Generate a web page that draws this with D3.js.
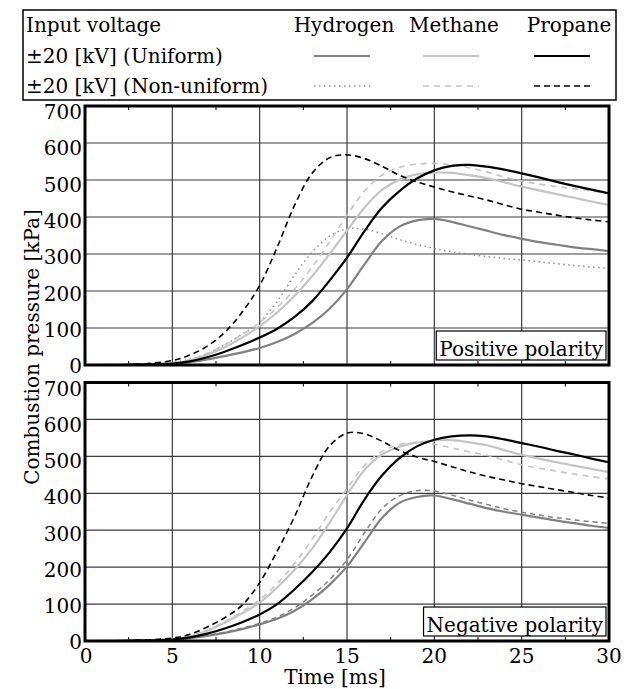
<!DOCTYPE html>
<html>
<head>
<meta charset="utf-8">
<script src="https://cdn.jsdelivr.net/npm/d3@7"></script>
<style>
  body { margin: 0; background: #fff; }
  svg { display: block; font-family: "DejaVu Serif", serif; }
</style>
</head>
<body>
<svg id="chart"></svg>
<script>
// ---- Data ----
const TIME = [0, 2.5, 5, 6, 7, 8, 9, 10, 11, 12, 13, 14, 15, 16, 17, 18, 19, 20, 21, 22, 23, 24, 25, 26, 27, 28, 29, 30];

// Positive polarity [kPa]
const POS_HYDROGEN_UNIFORM = [0, 0.5, 3, 8, 15, 24, 34, 46, 62, 84, 113, 152, 205, 272, 335, 374, 391, 395, 387, 375, 363, 351, 341, 332, 325, 318, 313, 308];
const POS_METHANE_UNIFORM = [0, 0.5, 5, 12, 28, 48, 74, 105, 142, 187, 240, 300, 363, 425, 473, 501, 515, 520, 519, 513, 505, 494, 482, 472, 462, 452, 442, 432];
const POS_PROPANE_UNIFORM = [0, 0.5, 4, 10, 21, 36, 54, 74, 98, 130, 172, 228, 290, 362, 425, 470, 504, 526, 538, 541, 536, 528, 518, 507, 495, 484, 474, 464];
const POS_HYDROGEN_NONUNIFORM = [0, 1, 7, 16, 31, 55, 83, 116, 172, 243, 305, 348, 368, 367, 355, 339, 326, 315, 306, 299, 293, 288, 284, 279, 274, 269, 265, 261];
const POS_METHANE_NONUNIFORM = [0, 0.5, 6, 14, 32, 55, 82, 115, 155, 205, 265, 332, 405, 470, 513, 534, 543, 545, 541, 533, 522, 508, 497, 489, 482, 476, 470, 464];
const POS_PROPANE_NONUNIFORM = [0, 1, 12, 27, 51, 88, 143, 215, 318, 432, 518, 560, 568, 558, 537, 513, 495, 481, 468, 457, 446, 433, 421, 413, 405, 398, 392, 387];

// Negative polarity [kPa]
const NEG_HYDROGEN_UNIFORM = [0, 0.5, 3, 8, 14, 22, 32, 45, 60, 82, 113, 152, 202, 267, 333, 374, 390, 394, 384, 372, 360, 350, 342, 334, 326, 319, 312, 306];
const NEG_METHANE_UNIFORM = [0, 0.5, 6, 13, 28, 50, 75, 104, 145, 193, 250, 320, 395, 463, 505, 526, 537, 543, 544, 538, 530, 517, 504, 494, 484, 475, 466, 457];
const NEG_PROPANE_UNIFORM = [0, 0.5, 4, 10, 20, 34, 51, 72, 100, 140, 186, 240, 305, 383, 448, 495, 527, 545, 554, 557, 554, 546, 536, 526, 515, 505, 494, 484];
const NEG_HYDROGEN_NONUNIFORM = [0, 0.5, 3, 8, 15, 24, 35, 48, 65, 90, 124, 166, 220, 293, 358, 393, 407, 406, 395, 382, 370, 358, 349, 341, 334, 328, 323, 318];
const NEG_METHANE_NONUNIFORM = [0, 0.5, 6, 14, 30, 52, 80, 112, 155, 210, 275, 348, 413, 475, 513, 532, 538, 533, 523, 512, 503, 490, 477, 468, 460, 452, 445, 439];
const NEG_PROPANE_NONUNIFORM = [0, 1, 8, 18, 38, 63, 97, 158, 243, 337, 445, 528, 563, 561, 541, 516, 498, 486, 472, 458, 446, 436, 426, 418, 410, 402, 394, 387];

const Y_TICKS = [0, 100, 200, 300, 400, 500, 600, 700];
const X_TICKS = [0, 5, 10, 15, 20, 25, 30];
const X_MINOR = [2.5, 7.5, 12.5, 17.5, 22.5, 27.5];
const GASES = ['Hydrogen', 'Methane', 'Propane'];

// ---- Styles ----
const STYLE = {
  hydrogenU: { stroke: '#808080', width: 2.2, dash: null },
  methaneU: { stroke: '#c4c4c4', width: 2.2, dash: null },
  propaneU: { stroke: '#000', width: 2.2, dash: null },
  hydrogenDot: { stroke: '#8c8c8c', width: 1.5, dash: '1.5,3.5' },
  hydrogenDash: { stroke: '#808080', width: 1.5, dash: '5,4' },
  methaneN: { stroke: '#c4c4c4', width: 1.6, dash: '6,5' },
  propaneN: { stroke: '#000', width: 1.6, dash: '6,4' }
};

const W = 630, H = 689;
const svg = d3.select('#chart').attr('width', W).attr('height', H);
const x = d3.scaleLinear().domain([0, 30]).range([85, 609]);

const panels = [
  {
    id: 'pos', label: 'Positive polarity', top: 106, bottom: 365,
    series: [
      [POS_HYDROGEN_NONUNIFORM, 'hydrogenDot'],
      [POS_METHANE_NONUNIFORM, 'methaneN'],
      [POS_HYDROGEN_UNIFORM, 'hydrogenU'],
      [POS_METHANE_UNIFORM, 'methaneU'],
      [POS_PROPANE_NONUNIFORM, 'propaneN'],
      [POS_PROPANE_UNIFORM, 'propaneU']
    ]
  },
  {
    id: 'neg', label: 'Negative polarity', top: 382.5, bottom: 641,
    series: [
      [NEG_HYDROGEN_NONUNIFORM, 'hydrogenDash'],
      [NEG_METHANE_NONUNIFORM, 'methaneN'],
      [NEG_HYDROGEN_UNIFORM, 'hydrogenU'],
      [NEG_METHANE_UNIFORM, 'methaneU'],
      [NEG_PROPANE_NONUNIFORM, 'propaneN'],
      [NEG_PROPANE_UNIFORM, 'propaneU']
    ]
  }
];

function applyStyle(sel, key) {
  const s = STYLE[key];
  sel.attr('fill', 'none')
    .attr('stroke', s.stroke)
    .attr('stroke-width', s.width)
    .attr('stroke-dasharray', s.dash);
}

// ---- Panels ----
panels.forEach(p => {
  const y = d3.scaleLinear().domain([0, 700]).range([p.bottom, p.top]);
  // labels sit a little lower than the grid towards the top, as in the source
  const yLabel = d3.scaleLinear().domain([0, 700]).range([p.bottom + 1, p.top + 6]);
  const g = svg.append('g').attr('class', 'panel-' + p.id);

  g.append('clipPath').attr('id', 'clip-' + p.id)
    .append('rect')
    .attr('x', x(0)).attr('y', p.top)
    .attr('width', x(30) - x(0)).attr('height', p.bottom - p.top);

  // grid
  g.append('g').selectAll('line')
    .data(Y_TICKS.slice(1, -1))
    .join('line')
    .attr('x1', x(0)).attr('x2', x(30))
    .attr('y1', d => y(d)).attr('y2', d => y(d))
    .attr('stroke', '#3c3c3c').attr('stroke-width', 1.2);
  g.append('g').selectAll('line')
    .data(X_TICKS.slice(1, -1))
    .join('line')
    .attr('x1', d => x(d)).attr('x2', d => x(d))
    .attr('y1', p.top).attr('y2', p.bottom)
    .attr('stroke', '#3c3c3c').attr('stroke-width', 1.2);

  // minor ticks (inward, top and bottom)
  g.append('g').selectAll('line')
    .data(X_MINOR.flatMap(t => [[t, p.bottom, -4], [t, p.top, 4]]))
    .join('line')
    .attr('x1', d => x(d[0])).attr('x2', d => x(d[0]))
    .attr('y1', d => d[1]).attr('y2', d => d[1] + d[2])
    .attr('stroke', '#000').attr('stroke-width', 1);

  // curves
  const line = d3.line()
    .x((d, i) => x(TIME[i]))
    .y(d => y(d))
    .curve(d3.curveCatmullRom.alpha(0.5));

  const curves = g.append('g').attr('clip-path', `url(#clip-${p.id})`);
  p.series.forEach(([values, key]) => {
    curves.append('path')
      .datum(values)
      .attr('d', line)
      .call(applyStyle, key);
  });

  // frame
  g.append('rect')
    .attr('x', x(0)).attr('y', p.top)
    .attr('width', x(30) - x(0)).attr('height', p.bottom - p.top)
    .attr('fill', 'none').attr('stroke', '#000').attr('stroke-width', 3);

  // y tick labels
  g.append('g').selectAll('text')
    .data(Y_TICKS)
    .join('text')
    .attr('x', 82)
    .attr('y', d => yLabel(d))
    .attr('dy', '0.36em')
    .attr('text-anchor', 'end')
    .attr('font-size', 20)
    .text(d => d);

  // panel label in a box
  const box = g.append('rect');
  const lbl = g.append('text')
    .attr('x', 603).attr('y', p.bottom - 9)
    .attr('text-anchor', 'end')
    .attr('font-size', 20)
    .text(p.label);
  const bb = lbl.node().getBBox();
  box.attr('x', bb.x - 3).attr('y', p.bottom - 34)
    .attr('width', 606 - (bb.x - 3)).attr('height', 29)
    .attr('fill', '#fff').attr('stroke', '#000').attr('stroke-width', 1.2);
});

// ---- x axis labels (below bottom panel) ----
svg.append('g').selectAll('text')
  .data(X_TICKS)
  .join('text')
  .attr('x', d => x(d) + (d === 0 ? 1 : 0))
  .attr('y', 663)
  .attr('text-anchor', 'middle')
  .attr('font-size', 20)
  .text(d => d);

svg.append('text')
  .attr('x', 335).attr('y', 684)
  .attr('text-anchor', 'middle')
  .attr('font-size', 20)
  .text('Time [ms]');

svg.append('text')
  .attr('transform', 'translate(39,347) rotate(-90)')
  .attr('text-anchor', 'middle')
  .attr('font-size', 20)
  .text('Combustion pressure [kPa]');

// ---- Legend ----
const legend = svg.append('g').attr('class', 'legend');
legend.append('rect')
  .attr('x', 23).attr('y', 10).attr('width', 593).attr('height', 90)
  .attr('fill', '#fff').attr('stroke', '#000').attr('stroke-width', 1.5);

const rowText = ['Input voltage', '\u00b120 [kV] (Uniform)', '\u00b120 [kV] (Non-uniform)'];
const rowBase = [32, 63, 93];
legend.selectAll('text.row')
  .data(rowText)
  .join('text')
  .attr('class', 'row')
  .attr('x', 26).attr('y', (d, i) => rowBase[i])
  .attr('font-size', 20)
  .text(d => d);

const colX = [342, 451, 562];
const headX = [344, 454, 569];
legend.selectAll('text.col')
  .data(GASES)
  .join('text')
  .attr('class', 'col')
  .attr('x', (d, i) => headX[i]).attr('y', rowBase[0])
  .attr('text-anchor', 'middle')
  .attr('font-size', 20)
  .text(d => d);

const legendKeys = [['hydrogenU', 'methaneU', 'propaneU'], ['hydrogenDot', 'methaneN', 'propaneN']];
legendKeys.forEach((keys, r) => {
  keys.forEach((key, c) => {
    legend.append('line')
      .attr('x1', colX[c] - 28).attr('x2', colX[c] + 28)
      .attr('y1', rowBase[r + 1] - 7).attr('y2', rowBase[r + 1] - 7)
      .call(applyStyle, key);
  });
});
</script>
</body>
</html>
